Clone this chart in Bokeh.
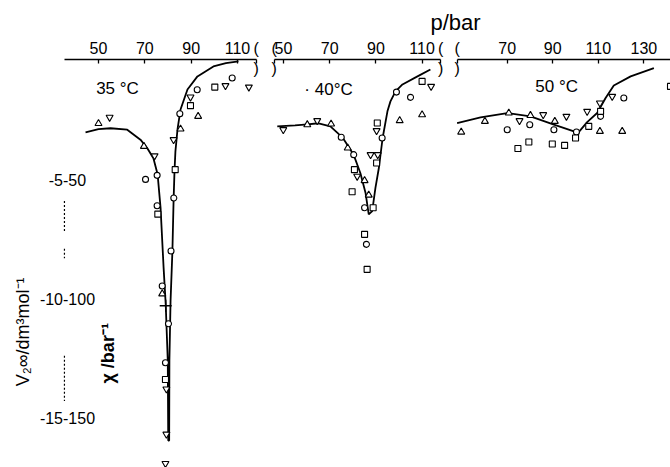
import numpy as np
from bokeh.plotting import figure
from bokeh.layouts import row, column
from bokeh.models import Range1d, LinearAxis, FixedTicker
from bokeh.core.properties import value
from bokeh.embed import file_html
from bokeh.resources import INLINE

# ---------------- data (p / bar, chi / bar^-1) ----------------
TEMP_LABELS = ["35 °C", "· 40°C", "50 °C"]
TICKS_35 = [50, 70, 90, 110]
TICKS_40 = [50, 70, 90, 110]
TICKS_50 = [70, 90, 110, 130]
BREAKS_35 = [118]
BREAKS_40 = [46, 118]
BREAKS_50 = [48]
CHI_TICKS = [-5, -10, -15]
CHI_TICK_LABELS = ["-5-50", "-10-100", "-15-150"]

# 35 °C
curve35_p = [44.4, 50.0, 55.2, 62.4, 68.1, 71.0, 73.7, 75.5, 76.8, 78.1, 79.0, 79.9, 80.1,
             80.5, 80.6, 81.1, 81.9, 82.4, 82.8, 83.2, 84.1, 85.4, 88.4, 92.7, 99.6, 105.0, 110.4]
curve35_chi = [-3.01, -2.88, -2.84, -2.90, -3.32, -3.67, -4.10, -4.77, -6.20, -8.71, -10.22, -12.61, -15.97,
               -15.97, -12.61, -10.10, -8.00, -5.90, -4.65, -3.81, -2.89, -2.05, -1.21, -0.66, -0.24, -0.10, -0.03]
up35_p = [50.0, 69.6, 77.5, 85.4, 93.0]
up35_chi = [-2.64, -3.60, -9.80, -2.87, -2.34]
down35_p = [54.8, 74.2, 82.4, 89.7, 79.3, 79.3, 78.9, 104.8, 114.9]
down35_chi = [-2.38, -4.00, -3.32, -1.53, -13.8, -15.7, -16.93, -1.05, -1.11]
circ35_p = [70.3, 75.3, 75.3, 77.5, 85.1, 82.5, 81.3, 80.2, 78.9, 92.6, 107.7]
circ35_chi = [-4.99, -4.82, -6.10, -9.47, -2.23, -5.77, -8.00, -11.06, -12.70, -1.22, -0.73]
sq35_p = [75.6, 83.1, 89.7, 78.9, 100.2]
sq35_chi = [-6.45, -4.58, -1.89, -13.40, -1.11]
cross35_p = [79.0]
cross35_chi = [-10.3]

# 40 °C
curve40_p = [47.3, 55.0, 60.4, 65.2, 70.3, 75.5, 80.3, 83.3, 85.5, 86.9, 88.4, 89.8, 91.3,
             92.9, 95.0, 96.3, 98.5, 101.5, 108.0, 113.6]
curve40_chi = [-2.76, -2.72, -2.68, -2.63, -2.76, -3.22, -3.94, -4.73, -5.55, -6.46, -6.32, -5.35, -4.50,
               -3.26, -2.13, -1.71, -1.29, -1.00, -0.66, -0.37]
up40_p = [60.3, 70.6, 77.8, 85.1, 86.9, 100.3, 110.0]
up40_chi = [-2.69, -2.66, -3.67, -5.04, -5.65, -2.52, -2.27]
down40_p = [49.9, 64.6, 81.9, 87.7, 90.8, 90.3, 113.9]
down40_chi = [-2.90, -2.52, -4.86, -3.95, -3.95, -2.94, -1.08]
circ40_p = [75.0, 80.4, 85.1, 85.9, 92.7, 98.9, 105.0]
circ40_chi = [-3.22, -3.95, -6.18, -7.72, -3.25, -1.32, -1.54]
sq40_p = [80.7, 79.7, 88.8, 85.1, 86.2, 90.3, 90.6, 110.0]
sq40_chi = [-4.58, -5.51, -6.18, -7.30, -8.77, -4.30, -2.62, -0.87]

# 50 °C
curve50_p = [48.0, 58.3, 70.0, 80.2, 90.5, 99.3, 101.4, 105.1, 109.5, 113.2, 116.8, 124.2, 134.4]
curve50_chi = [-2.62, -2.38, -2.20, -2.34, -2.69, -2.97, -3.00, -2.58, -2.20, -1.57, -1.04, -0.66, -0.31]
up50_p = [49.8, 60.2, 70.7, 80.2, 90.9, 110.7, 120.5]
up50_chi = [-3.00, -2.55, -2.20, -2.30, -2.55, -2.97, -2.97]
down50_p = [75.4, 85.8, 96.0, 105.1, 110.7, 116.1]
down50_chi = [-2.52, -2.27, -2.34, -2.13, -1.78, -1.50]
circ50_p = [70.0, 79.9, 90.5, 100.4, 111.0, 121.2]
circ50_chi = [-2.90, -2.69, -2.90, -3.00, -2.34, -1.57]
sq50_p = [74.7, 79.5, 89.8, 95.2, 100.0, 105.8, 111.0, 141.7]
sq50_chi = [-3.69, -3.42, -3.50, -3.56, -3.25, -2.76, -2.13, -1.08]

# ---------------- styling / layout ----------------
FONT = "Liberation Sans"
Y_RANGE = (-17.10, 0.05)
ROW_H = 431
TOP_BORDER = 22


def make_panel(xr, width, ticks, breaks, bounds):
    f = figure(width=width, height=ROW_H, x_range=Range1d(*xr), y_range=Range1d(*Y_RANGE),
               output_backend="svg", toolbar_location=None,
               x_axis_location=None, y_axis_location=None,
               min_border_left=0, min_border_right=0, min_border_top=TOP_BORDER, min_border_bottom=0)
    f.outline_line_color = None
    f.grid.visible = False
    f.background_fill_color = "white"
    f.border_fill_color = "white"
    ax = LinearAxis(ticker=FixedTicker(ticks=sorted(ticks + breaks)), bounds=bounds)
    ax.major_label_overrides = {b: "(" for b in breaks}
    ax.axis_line_width = 1.6
    ax.axis_line_color = "black"
    ax.major_tick_in = 4
    ax.major_tick_out = 0
    ax.major_tick_line_width = 1.3
    ax.minor_tick_in = 0
    ax.minor_tick_out = 0
    ax.major_label_standoff = 3
    ax.major_label_text_font = FONT
    ax.major_label_text_font_size = "16px"
    ax.major_label_text_color = "black"
    f.add_layout(ax, "above")
    # lower half of the axis-break marks
    f.text(breaks, [Y_RANGE[1]] * len(breaks), text=[")"] * len(breaks), text_font=value(FONT),
           text_font_size="16px", text_align="center", text_baseline="top", text_color="black")
    return f


def draw_data(f, cp, cc, up, down, circ, sq):
    f.line(cp, cc, line_color="black", line_width=1.8)
    kw = dict(line_color="black", fill_color="white", line_width=1.1)
    f.scatter(up[0], up[1], marker="triangle", size=7, **kw)
    f.scatter(down[0], down[1], marker="inverted_triangle", size=7, **kw)
    f.scatter(circ[0], circ[1], marker="circle", size=6, **kw)
    f.scatter(sq[0], sq[1], marker="square", size=6, **kw)


def temp_label(f, x, y, t):
    f.text([x], [y], text=[t], text_font=value(FONT), text_font_size="17px",
           text_align="center", text_baseline="middle", text_color="black")


# panel 1 (35 °C)
p1 = make_panel((7.70, 119.92), 260, TICKS_35, BREAKS_35, (35.5, 118))
draw_data(p1, curve35_p, curve35_chi, (up35_p, up35_chi), (down35_p, down35_chi),
          (circ35_p, circ35_chi), (sq35_p, sq35_chi))
p1.scatter(cross35_p, cross35_chi, marker="cross", size=12, line_color="black", line_width=1.4)
temp_label(p1, 58.2, -1.17, TEMP_LABELS[0])
# y "axis" labels
p1.text([36.6] * 3, CHI_TICKS, text=CHI_TICK_LABELS, text_font=value(FONT), text_font_size="16px",
        text_align="center", text_baseline="middle", text_color="black")
p1.segment(x0=[35.3, 35.3, 35.3], y0=[-5.9, -7.9, -12.4], x1=[35.3, 35.3, 35.3], y1=[-7.2, -8.3, -14.3],
           line_color="black", line_width=1.2, line_dash="2 2")
p1.text([17.6], [-11.4], text=["V₂∞/dm³mol⁻¹"], angle=np.pi / 2, text_font=value(FONT),
        text_font_size="18px", text_align="center", text_baseline="middle", text_color="black")
p1.text([54.3], [-12.3], text=["χ /bar⁻¹"], angle=np.pi / 2, text_font=value(FONT),
        text_font_size="18px", text_font_style="bold", text_align="center", text_baseline="middle",
        text_color="black")

# panel 2 (40 °C)
p2 = make_panel((40.04, 121.0), 187, TICKS_40, BREAKS_40, (46, 118))
draw_data(p2, curve40_p, curve40_chi, (up40_p, up40_chi), (down40_p, down40_chi),
          (circ40_p, circ40_chi), (sq40_p, sq40_chi))
temp_label(p2, 69.5, -1.21, TEMP_LABELS[1])

# panel 3 (50 °C)
p3 = make_panel((43.78, 141.7), 223, TICKS_50, BREAKS_50, (48, 142.0))
draw_data(p3, curve50_p, curve50_chi, (up50_p, up50_chi), (down50_p, down50_chi),
          (circ50_p, circ50_chi), (sq50_p, sq50_chi))
temp_label(p3, 91.7, -1.08, TEMP_LABELS[2])

# title strip with "p/bar"
ttl = figure(width=670, height=36, x_range=Range1d(0, 670), y_range=Range1d(0, 36),
             output_backend="svg", toolbar_location=None, x_axis_location=None, y_axis_location=None,
             min_border=0)
ttl.outline_line_color = None
ttl.grid.visible = False
ttl.text([455], [14], text=["p/bar"], text_font=value(FONT), text_font_size="22px",
         text_align="center", text_baseline="middle", text_color="black")

layout = column(ttl, row(p1, p2, p3, spacing=0), spacing=0)
open("out.html", "w").write(file_html(layout, INLINE))
